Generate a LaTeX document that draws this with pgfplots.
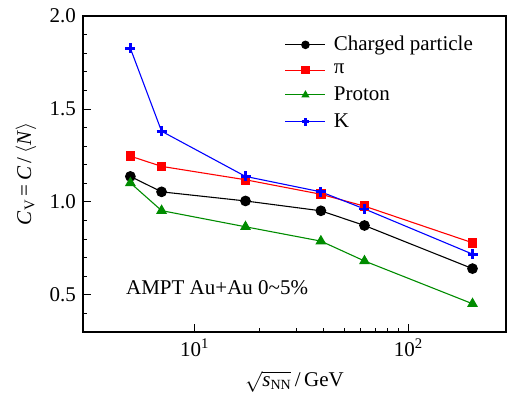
\documentclass[border=0pt]{standalone}
\usepackage{fontspec}
\setmainfont{Liberation Serif}
\usepackage{pgfplots}
\pgfplotsset{compat=1.18}
\definecolor{cgreen}{RGB}{0,140,0}
\begin{document}
\fontsize{21bp}{25bp}\selectfont
\begin{tikzpicture}
\begin{axis}[
  scale only axis,
  width=423bp, height=316bp,
  xmode=log,
  xmin=3, xmax=287,
  ymin=0.3, ymax=2.0,
  xtick={10,100},
  xticklabels={10\textsuperscript{1},10\textsuperscript{2}},
  ytick={0.5,1.0,1.5,2.0},
  minor ytick={0.4,0.6,0.7,0.8,0.9,1.1,1.2,1.3,1.4,1.6,1.7,1.8,1.9},
  yticklabel style={/pgf/number format/.cd,fixed,fixed zerofill,precision=1,assume math mode=true},
  tick pos=left,
  tick align=inside,
  major tick length=8bp,
  minor tick length=4.5bp,
  every tick/.style={line width=0.8pt,black},
  axis line style={line width=1.2pt},
  font=\fontsize{21bp}{25bp}\selectfont,
  xlabel={$\sqrt{\mbox{\textit{s}}_{\mbox{\fontsize{14bp}{16bp}\selectfont NN}}}$\,/\,GeV},
  ylabel={\textit{C}\textsubscript{V}\,=\,\textit{C}\,/\,$\langle$\textit{N}$\rangle$},
  ylabel style={yshift=-1bp},
  legend style={draw=none,fill=none,at={(0.47,0.95)},anchor=north west,
    font=\fontsize{21bp}{25bp}\selectfont,row sep=6bp,
    /tikz/every odd column/.append style={column sep=6bp}},
  legend cell align=left,
  legend image code/.code={%
    \draw[mark repeat=2,mark phase=2,mark size=3.8bp,line width=0.9pt] plot coordinates {(0bp,0bp)(20bp,0bp)(40bp,0bp)};},
  every axis plot/.append style={line width=1.1pt},
]
\addplot[black,mark=*,mark size=4.8bp,mark options={solid}] coordinates {
(5,1.137)(7,1.054)(17.3,1.005)(39,0.952)(62.4,0.873)(200,0.641)};
\addlegendentry{Charged particle}
\addplot[red,mark=square*,mark size=4.3bp] coordinates {
(5,1.246)(7,1.191)(17.3,1.119)(39,1.041)(62.4,0.977)(200,0.780)};
\addlegendentry{π}
\addplot[cgreen,mark=triangle*,mark size=5.2bp] coordinates {
(5,1.102)(7,0.953)(17.3,0.866)(39,0.789)(62.4,0.682)(200,0.452)};
\addlegendentry{Proton}
\addplot[blue,mark=+,mark size=5bp,mark options={line width=2.8pt}] coordinates {
(5,1.826)(7,1.380)(17.3,1.137)(39,1.054)(62.4,0.962)(200,0.719)};
\addlegendentry{K}
\node[anchor=west] at (rel axis cs:0.085,0.139) {AMPT Au+Au 0\textasciitilde 5\%};
\end{axis}
\pgfresetboundingbox
\path ([xshift=-83bp,yshift=-76bp]current axis.south west) rectangle ([xshift=1bp,yshift=16bp]current axis.north east);
\end{tikzpicture}
\end{document}
